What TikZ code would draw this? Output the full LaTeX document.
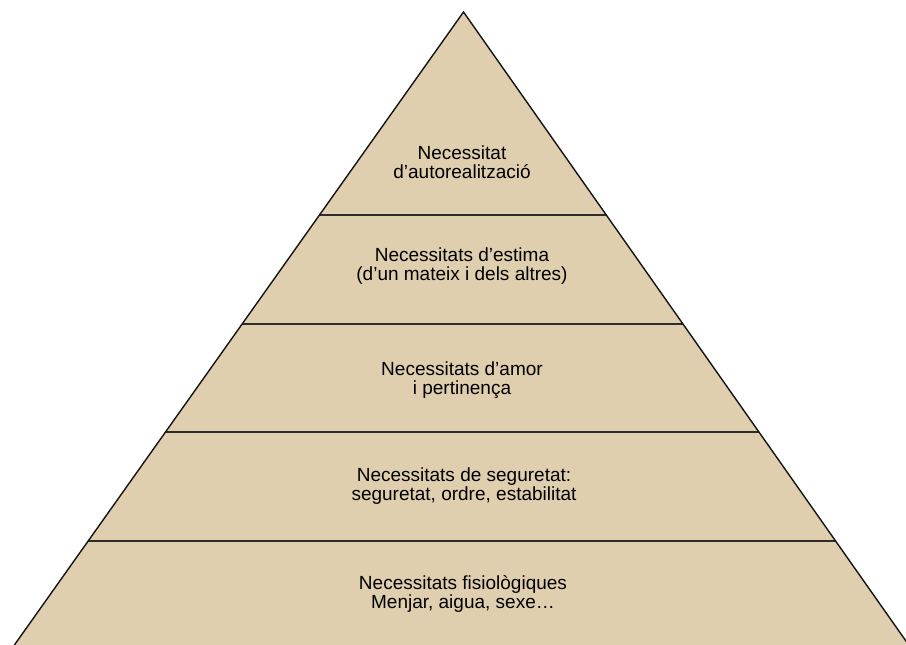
\documentclass[tikz,border=0pt]{standalone}
\usepackage{fontspec}
\setmainfont{Liberation Sans}
\definecolor{sand}{RGB}{223,207,174}
\definecolor{edge}{RGB}{20,20,20}
\begin{document}
\begin{tikzpicture}[x=1pt,y=-1pt,
  lvl/.style={align=center,font=\fontsize{19}{19.5}\selectfont,text=black,inner sep=0pt},
  divider/.style={draw=edge!90!white,line width=1.4pt},
  outline/.style={draw=edge,line width=1.4pt,line join=miter}]
\useasboundingbox (0,0) rectangle (906,645);
\clip (0,0) rectangle (906,645);
\coordinate (apex) at (463.5,12);
\coordinate (bl) at ({463.5-635*0.7095},647);
\coordinate (br) at ({463.5+635*0.7034},647);
\fill[sand] (apex) -- (bl) -- (br) -- cycle;
\foreach \y/\n in {215/a,324/b,432/c,541/d}{
  \coordinate (L\n) at ({463.5-(\y-12)*0.7095},\y);
  \coordinate (R\n) at ({463.5+(\y-12)*0.7034},\y);
  \draw[divider] (L\n) -- (R\n);
}
\draw[outline] (bl) -- (apex) -- (br);
\node[lvl] (t1) at (462,162) {Necessitat\\d’autorealització};
\node[lvl] (t2) at (462,266) {Necessitats d’estima\\(d’un mateix i dels altres)};
\node[lvl] (t3) at (462,380) {Necessitats d’amor\\i pertinença};
\node[lvl] (t4) at (464,486) {Necessitats de seguretat:\\seguretat, ordre, estabilitat};
\node[lvl] (t5) at (463,594) {Necessitats fisiològiques\\Menjar, aigua, sexe…};
\end{tikzpicture}
\end{document}
